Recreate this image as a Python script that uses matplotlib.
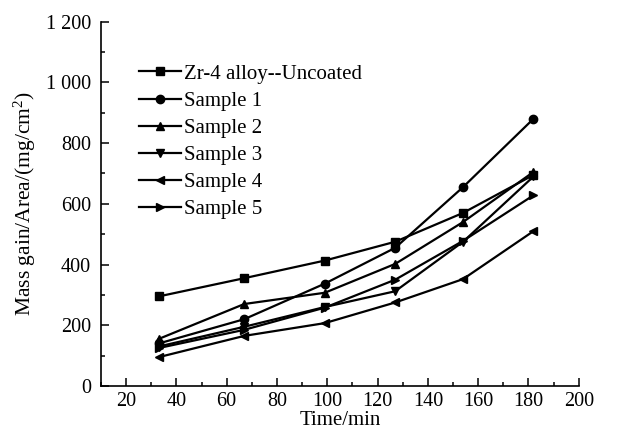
import matplotlib
matplotlib.use('Agg')
import matplotlib.pyplot as plt
from matplotlib.ticker import MultipleLocator, FuncFormatter

plt.rcParams['font.family'] = ['Liberation Serif', 'DejaVu Serif']
plt.rcParams['mathtext.fontset'] = 'custom'
plt.rcParams['mathtext.rm'] = 'Liberation Serif'

# time (min) and mass gain / area (mg/cm2)
time = [33, 67, 99, 127, 154, 182]
zr4 = [295, 355, 413, 475, 570, 695]
s1 = [140, 220, 337, 455, 655, 880]
s2 = [155, 270, 307, 402, 540, 705]
s3 = [130, 195, 260, 312, 475, 690]
s4 = [95, 165, 207, 275, 352, 510]
s5 = [125, 185, 258, 350, 478, 628]

labels = ['Zr-4 alloy--Uncoated', 'Sample 1', 'Sample 2', 'Sample 3', 'Sample 4', 'Sample 5']
markers = ['s', 'o', '^', 'v', '<', '>']
series = [zr4, s1, s2, s3, s4, s5]

fig = plt.figure(figsize=(6.19, 4.32), dpi=100)
ax = fig.add_axes([0.163, 0.1065, 0.772, 0.8435])

for y, m, lab in zip(series, markers, labels):
    ax.plot(time, y, color='black', lw=1.6, marker=m, markersize=6, label=lab)

ax.set_xlim(10, 200)
ax.set_ylim(0, 1200)
ax.xaxis.set_major_locator(MultipleLocator(20))
ax.xaxis.set_minor_locator(MultipleLocator(10))
ax.yaxis.set_major_locator(MultipleLocator(200))
ax.yaxis.set_minor_locator(MultipleLocator(100))
ax.yaxis.set_major_formatter(FuncFormatter(lambda v, p: '{:,.0f}'.format(v).replace(',', ' ')))

ax.spines['top'].set_visible(False)
ax.spines['right'].set_visible(False)
for s in ['left', 'bottom']:
    ax.spines[s].set_linewidth(1.2)

ax.tick_params(which='major', direction='in', length=6, width=1.1, labelsize=14.5, pad=4)
ax.tick_params(which='minor', direction='in', length=3, width=1.1)
ax.tick_params(axis='y', which='major', pad=7)

ax.set_xlabel('Time/min', fontsize=15, labelpad=0)
ax.set_ylabel(r'Mass gain/Area/(mg/cm$\mathregular{^{2}}$)', fontsize=15.5, labelpad=6)

ax.legend(loc='upper left', bbox_to_anchor=(0.063, 0.906), frameon=False, fontsize=15,
          handlelength=2.0, handletextpad=0.15, labelspacing=0.36, borderaxespad=0)

plt.savefig('out.png', dpi=100)
